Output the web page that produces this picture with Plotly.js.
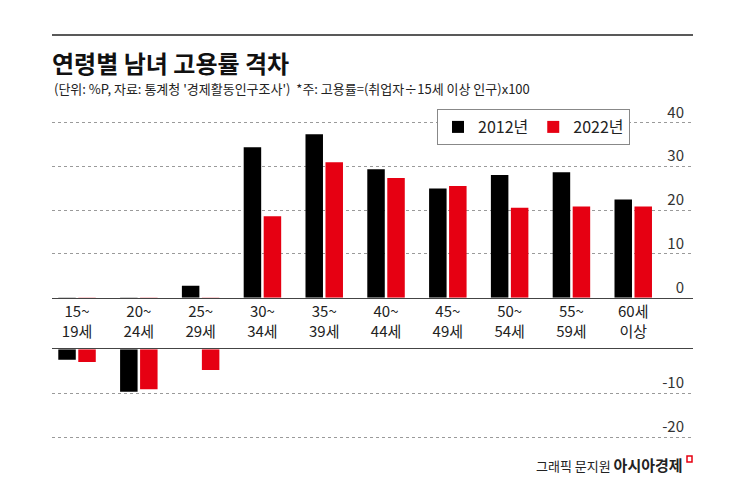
<!DOCTYPE html>
<html><head><meta charset="utf-8">
<script src="https://cdn.plot.ly/plotly-3.0.1.min.js"></script>
<style>html,body{margin:0;padding:0;background:#fff;}</style>
</head><body>
<div id="chart" style="width:745px;height:482px;"></div>
<script>
// Data
const categories = ['15~<br>19세','20~<br>24세','25~<br>29세','30~<br>34세','35~<br>39세','40~<br>44세','45~<br>49세','50~<br>54세','55~<br>59세','60세<br>이상'];
const y2012 = [-2.4, -9.7, 2.7, 34.3, 37.3, 29.3, 24.9, 28.0, 28.6, 22.4];
const y2022 = [-2.9, -9.1, -4.7, 18.6, 30.9, 27.3, 25.5, 20.5, 20.8, 20.8];
const seriesNames = ['2012년', '2022년'];
const upperTicks = [0, 10, 20, 30, 40];
const upperTickText = ['0', '10', '20', '30', '40'];
const lowerTicks = [-10, -20];
const lowerTickText = ['-10', '-20'];

const BLACK = '#000000', RED = '#e60012';
const FONT = 'Noto Sans CJK KR, sans-serif';
const NUMFONT = 'Liberation Sans Narrow, Noto Sans CJK KR, sans-serif';

function bar(y, name, color, xa, ya, legend) {
  return {type:'bar', x:categories, y:y, name:name, xaxis:xa, yaxis:ya,
    marker:{color:color, line:{width:0}}, showlegend:legend, hoverinfo:'skip'};
}
const data = [
  bar(y2012, seriesNames[0], BLACK, 'x', 'y', true),
  bar(y2022, seriesNames[1], RED, 'x', 'y', true),
  bar(y2012, seriesNames[0], BLACK, 'x2', 'y2', false),
  bar(y2022, seriesNames[1], RED, 'x2', 'y2', false)
];

// plot area: top 98, bottom 460 (height 362); 4.385 px per unit
const T = 98, B = 460, H = B - T;
const zeroUp = 297.7, zeroLow = 349.3, ppu = 4.385;
const upDom0 = (B - zeroUp) / H;
const upMax = (zeroUp - T) / ppu;
const lowDom1 = (B - zeroLow) / H;
const lowMin = -(B - zeroLow) / ppu;

const xr = [-0.405, 9.967];
const yCommon = {side:'right', ticklabelposition:'inside', ticklabelshift:-10, ticklabelstandoff:6,
  showgrid:true, gridcolor:'#9a9a9a', griddash:'dot', gridwidth:1, zeroline:false,
  showline:false, ticks:'', tickmode:'array', tickfont:{family:NUMFONT, size:15, color:'#333'}, fixedrange:true};

const layout = {
  width:745, height:482,
  margin:{l:52, r:52, t:T, b:482-B, pad:0},
  paper_bgcolor:'#fff', plot_bgcolor:'rgba(0,0,0,0)',
  font:{family:FONT, color:'#222'},
  barmode:'group', bargap:0.353, bargroupgap:0.125,
  title:{text:'<b>연령별 남녀 고용률 격차</b>', font:{family:FONT, size:24, color:'#111'},
    xref:'container', x:52/745, xanchor:'left', yref:'container', y:1-56/482, yanchor:'top', pad:{t:0,l:0}},
  xaxis:{type:'category', anchor:'y', domain:[0,1], range:xr, showline:true, linecolor:'#444', linewidth:1.5,
    ticks:'', showgrid:false, tickfont:{family:NUMFONT, size:15, color:'#222'}, fixedrange:true},
  xaxis2:{type:'category', anchor:'y2', domain:[0,1], range:xr, side:'top', showline:true, linecolor:'#444', linewidth:1.5,
    ticks:'', showgrid:false, showticklabels:false, fixedrange:true},
  yaxis: Object.assign({}, yCommon, {anchor:'x', domain:[upDom0,1], range:[0,upMax], tickvals:upperTicks, ticktext:upperTickText}),
  yaxis2: Object.assign({}, yCommon, {anchor:'x2', domain:[0,lowDom1], range:[lowMin,0], tickvals:lowerTicks, ticktext:lowerTickText}),
  showlegend:true,
  legend:{orientation:'h', x:(437-52)/641, xanchor:'left', y:1-(109-T)/H, yanchor:'top', bgcolor:'#fff',
    bordercolor:'#888', borderwidth:1, font:{family:NUMFONT, size:16, color:'#222'}, traceorder:'normal', itemwidth:30},
  shapes:[
    {type:'line', xref:'paper', yref:'paper', x0:0, x1:1, y0:1+(T-35)/H, y1:1+(T-35)/H, line:{color:'#222', width:1.5}},
    {type:'rect', xref:'paper', yref:'paper', x0:(687-52)/641, x1:(692-52)/641, y0:-(462-B)/H, y1:-(456-B)/H, line:{color:RED, width:1.5}, fillcolor:'rgba(0,0,0,0)'}
  ],
  annotations:[
    {text:"(단위: %P, 자료: 통계청 '경제활동인구조사')  *주: 고용률=(취업자÷15세 이상 인구)x100",
      xref:'paper', yref:'paper', x:0, xanchor:'left', y:1+(T-89)/H, yanchor:'middle', showarrow:false,
      font:{family:FONT, size:13, color:'#222'}},
    {text:'그래픽 문지원 <b><span style="font-size:15px">아시아경제</span></b>', xref:'paper', yref:'paper', x:(685-52)/641, xanchor:'right',
      y:-(465-B)/H, yanchor:'middle', showarrow:false, font:{family:FONT, size:13, color:'#222'}}
  ]
};

Plotly.newPlot('chart', data, layout, {staticPlot:true, displayModeBar:false});
</script>
</body></html>
